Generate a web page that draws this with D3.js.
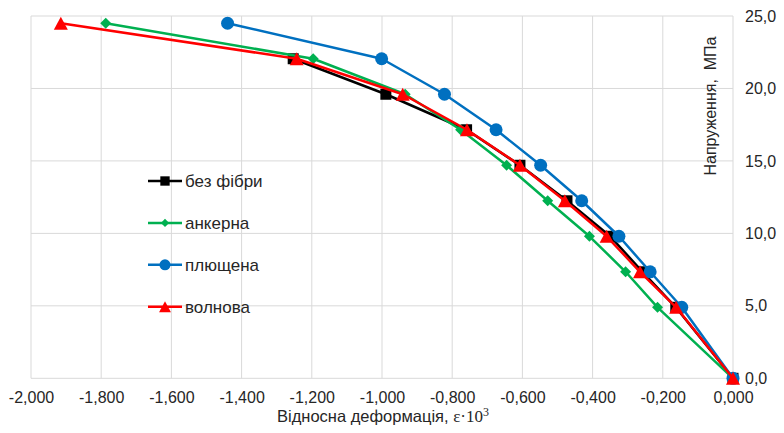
<!DOCTYPE html>
<html>
<head>
<meta charset="utf-8">
<script src="https://cdn.jsdelivr.net/npm/d3@7"></script>
<style>
  body { margin: 0; background: #fff; }
  svg { display: block; font-family: "Liberation Sans", Arial, sans-serif; }
</style>
</head>
<body>
<svg id="chart"></svg>
<script>
// stress levels, MPa (shared by all series)
var stress = [0, 4.9, 7.35, 9.8, 12.25, 14.7, 17.15, 19.6, 22.05, 24.5];

// relative strain, e*10^3
var noFiber  = [0, -0.163, -0.258, -0.350, -0.473, -0.607, -0.759, -0.989, -1.253];
var anchor   = [0, -0.215, -0.306, -0.409, -0.528, -0.645, -0.776, -0.934, -1.196, -1.787];
var flat     = [0, -0.146, -0.236, -0.325, -0.431, -0.548, -0.675, -0.822, -1.001, -1.440];
var wave     = [0, -0.162, -0.265, -0.360, -0.479, -0.607, -0.758, -0.941, -1.243, -1.915];

var seriesNames = ["без фібри", "анкерна", "плющена", "волнова"];
var xTicks = [-2, -1.8, -1.6, -1.4, -1.2, -1, -0.8, -0.6, -0.4, -0.2, 0];
var yTicks = [0, 5, 10, 15, 20, 25];

var width = 784, height = 433;
var margin = {left: 31, right: 51, top: 16, bottom: 54.7};

var series = [
  {name: seriesNames[0], strain: noFiber, color: "#000000", marker: "square"},
  {name: seriesNames[1], strain: anchor,  color: "#00B050", marker: "diamond"},
  {name: seriesNames[2], strain: flat,    color: "#0070C0", marker: "circle"},
  {name: seriesNames[3], strain: wave,    color: "#FF0000", marker: "triangle"}
];

var locale = d3.formatLocale({decimal: ",", thousands: " ", grouping: [3], currency: ["", ""], minus: "-"});
var fx = locale.format(".3f");
var fy = locale.format(".1f");

var x = d3.scaleLinear().domain([-2, 0]).range([margin.left, width - margin.right]);
var y = d3.scaleLinear().domain([0, 25]).range([height - margin.bottom, margin.top]);

// marker shapes, s = scale factor (1 for plot, smaller for legend)
function markerPath(type, s) {
  if (type == "square") { var a = 5.5 * s; return `M${-a},${-a}H${a}V${a}H${-a}Z`; }
  if (type == "diamond") { var r = 5.5 * s; return `M0,${-r}L${r},0L0,${r}L${-r},0Z`; }
  if (type == "circle") { var c = 6.5 * s; return `M${c},0A${c},${c} 0 1,1 ${-c},0A${c},${c} 0 1,1 ${c},0Z`; }
  var w = 7 * s, h = 6.5 * s;
  return `M0,${-h}L${w},${h}L${-w},${h}Z`;
}

const svg = d3.select("#chart")
  .attr("width", width)
  .attr("height", height)
  .attr("viewBox", [0, 0, width, height]);

// grid
svg.append("g")
  .selectAll("line")
  .data(xTicks)
  .join("line")
  .attr("x1", d => x(d)).attr("x2", d => x(d))
  .attr("y1", y(25)).attr("y2", y(0))
  .attr("stroke", "#d9d9d9").attr("stroke-width", 1);

svg.append("g")
  .selectAll("line")
  .data(yTicks)
  .join("line")
  .attr("x1", x(-2)).attr("x2", x(0))
  .attr("y1", d => y(d)).attr("y2", d => y(d))
  .attr("stroke", "#d9d9d9").attr("stroke-width", 1);

// axes
svg.append("g")
  .attr("transform", `translate(0,${y(0)})`)
  .call(d3.axisBottom(x).tickValues(xTicks).tickFormat(fx).tickSize(0).tickPadding(13))
  .call(g => g.select(".domain").remove())
  .call(g => g.selectAll(".tick text").attr("font-size", "16px").attr("fill", "#262626")
    .attr("font-family", "'Liberation Sans', Arial, sans-serif"));

svg.append("g")
  .attr("transform", `translate(${x(0)},0)`)
  .call(d3.axisRight(y).tickValues(yTicks).tickFormat(fy).tickSize(0).tickPadding(12))
  .call(g => g.select(".domain").remove())
  .call(g => g.selectAll(".tick text").attr("font-size", "16px").attr("fill", "#262626")
    .attr("font-family", "'Liberation Sans', Arial, sans-serif"));

// axis titles
var xt = svg.append("text")
  .attr("x", 383).attr("y", 422)
  .attr("text-anchor", "middle")
  .attr("font-size", "16.5px")
  .attr("fill", "#262626");
xt.append("tspan").text("Відносна деформація, ");
xt.append("tspan").attr("font-family", "'Liberation Serif', 'Times New Roman', serif").attr("font-size", "17px").text("ε·10");
xt.append("tspan").attr("font-family", "'Liberation Serif', 'Times New Roman', serif").attr("font-size", "12px").attr("dy", "-6").text("3");

svg.append("text")
  .attr("transform", "translate(716,106) rotate(-90)")
  .attr("text-anchor", "middle")
  .attr("font-size", "16px")
  .attr("fill", "#262626")
  .style("white-space", "pre")
  .text("Напруження,  МПа");

// lines and markers
var line = d3.line().x(d => x(d[0])).y(d => y(d[1]));

const sg = svg.selectAll(".series")
  .data(series)
  .join("g")
  .attr("class", "series");

sg.append("path")
  .attr("d", d => line(d.strain.map((v, i) => [v, stress[i]])))
  .attr("fill", "none")
  .attr("stroke", d => d.color)
  .attr("stroke-width", 2.5)
  .attr("stroke-linejoin", "round");

sg.selectAll(".mk")
  .data(d => d.strain.map((v, i) => ({v: v, s: stress[i], color: d.color, marker: d.marker})))
  .join("path")
  .attr("class", "mk")
  .attr("transform", d => `translate(${x(d.v)},${y(d.s)})`)
  .attr("d", d => markerPath(d.marker, 1))
  .attr("fill", d => d.color);

// legend
const legend = svg.append("g")
  .selectAll("g")
  .data(series)
  .join("g")
  .attr("transform", (d, i) => `translate(148,${181 + i * 41.9})`);

legend.append("line")
  .attr("x1", 0).attr("x2", 34)
  .attr("stroke", d => d.color)
  .attr("stroke-width", 2.5);

legend.append("path")
  .attr("transform", "translate(17,0)")
  .attr("d", d => markerPath(d.marker, d.marker == "diamond" ? 0.75 : 0.85))
  .attr("fill", d => d.color);

legend.append("text")
  .attr("x", 37).attr("dy", "0.35em")
  .attr("font-size", "17px")
  .attr("fill", "#262626")
  .text(d => d.name);
</script>
</body>
</html>
